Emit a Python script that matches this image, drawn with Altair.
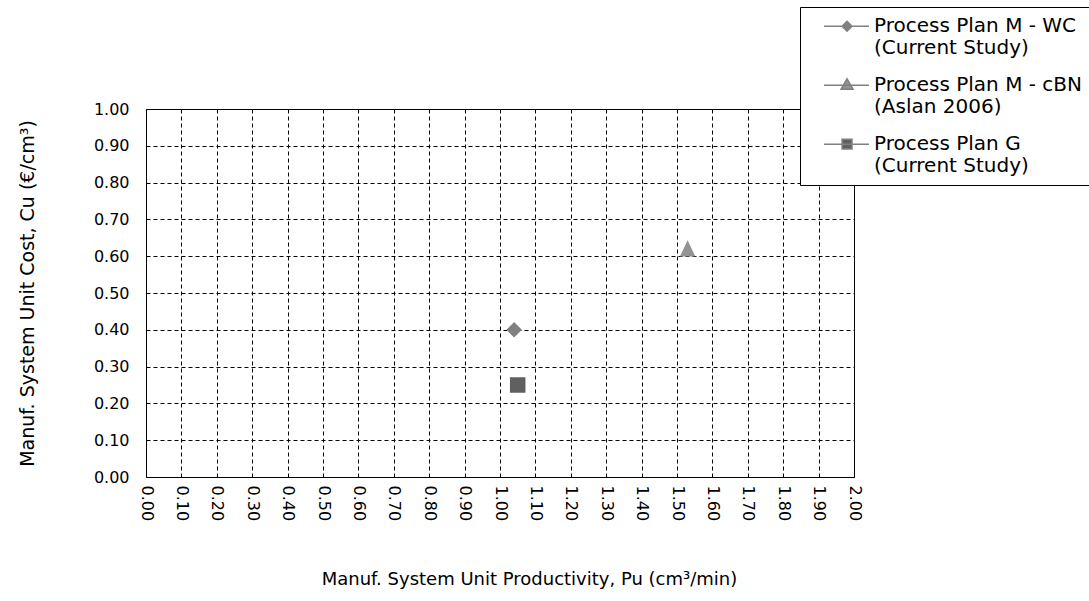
import altair as alt
import pandas as pd

# ---- data ----
series = [
    "Process Plan M - WC|(Current Study)",
    "Process Plan M - cBN|(Aslan 2006)",
    "Process Plan G|(Current Study)",
]
productivity = [1.04, 1.53, 1.05]   # Pu (cm3/min)
cost = [0.40, 0.62, 0.25]           # Cu (EUR/cm3)
x_ticks = [0.0, 0.1, 0.2, 0.3, 0.4, 0.5, 0.6, 0.7, 0.8, 0.9, 1.0,
           1.1, 1.2, 1.3, 1.4, 1.5, 1.6, 1.7, 1.8, 1.9, 2.0]
y_ticks = [0.0, 0.1, 0.2, 0.3, 0.4, 0.5, 0.6, 0.7, 0.8, 0.9, 1.0]

marker_colors = ["#808080", "#939393", "#606060"]
marker_shapes = ["diamond", "M0,-1.1L1,1L-1,1Z", "square"]

# legend symbols: a short line with the marker on it (unit box -1..1, r = 15px)
d = -0.39
legend_paths = [
    f"M-0.07,{d}H2.93M1.47,{d-0.33}L1.8,{d}L1.47,{d+0.33}L1.14,{d}Z",
    f"M-0.07,{d}H2.93M1.47,{d-0.42}L1.87,{d+0.27}L1.07,{d+0.27}Z",
    f"M-0.07,{d}H2.93M1.14,{d-0.33}H1.8V{d+0.33}H1.14Z",
]

df = pd.DataFrame({"series": series, "Pu": productivity, "Cu": cost})

font = "DejaVu Sans"

x_enc = alt.X(
    "Pu:Q",
    scale=alt.Scale(domain=[0, 2], nice=False, zero=False),
    axis=alt.Axis(
        values=x_ticks, format=".2f", labelAngle=90, labelAlign="left",
        labelBaseline="middle", labelPadding=8,
        title="Manuf. System Unit Productivity, Pu (cm³/min)",
        titlePadding=50, titleX=383, titleAlign="center",
    ),
)
y_enc = alt.Y(
    "Cu:Q",
    scale=alt.Scale(domain=[0, 1], nice=False, zero=False),
    axis=alt.Axis(
        values=y_ticks, format=".2f", labelPadding=17,
        title="Manuf. System Unit Cost, Cu (€/cm³)", titlePadding=56,
        titleFontSize=19,
    ),
)

points = alt.Chart(df).mark_point(filled=True, opacity=1, size=240).encode(
    x=x_enc,
    y=y_enc,
    color=alt.Color("series:N", scale=alt.Scale(domain=series, range=marker_colors), legend=None),
    shape=alt.Shape("series:N", scale=alt.Scale(domain=series, range=marker_shapes), legend=None),
)

leg = alt.Legend(
    title=None, orient="none", legendX=654, legendY=-102,
    labelExpr="split(datum.label, '|')",
    labelFont=font, labelFontSize=20, labelColor="black", labelLimit=600,
    labelBaseline="alphabetic", labelOffset=33,
    symbolSize=900, symbolStrokeColor="#808080", symbolStrokeWidth=1.5,
    strokeColor="black", fillColor="white", padding=9, rowPadding=17,
)

legend_layer = alt.Chart(df).mark_point(filled=True, opacity=1, size=0).encode(
    x=x_enc,
    y=y_enc,
    color=alt.Color("series:N", scale=alt.Scale(domain=series, range=marker_colors), legend=leg),
    shape=alt.Shape("series:N", scale=alt.Scale(domain=series, range=legend_paths), legend=leg),
)

chart = (
    alt.layer(points, legend_layer)
    .resolve_scale(color="independent", shape="independent")
    .properties(
        width=708, height=368,
        autosize=alt.AutoSizeParams(type="none"),
        padding={"left": 146, "top": 109, "right": 235, "bottom": 124},
        background="white",
    )
    .configure_view(stroke="black", strokeWidth=1)
    .configure_axis(
        labelFont=font, labelFontSize=16, labelColor="black",
        titleFont=font, titleFontSize=18, titleFontWeight="normal", titleColor="black",
        grid=True, gridColor="black", gridDash=[4, 3], gridWidth=1, gridOpacity=1,
        ticks=False, domain=False,
    )
)

chart.save("out.html", embed_options={"renderer": "svg", "actions": False})
